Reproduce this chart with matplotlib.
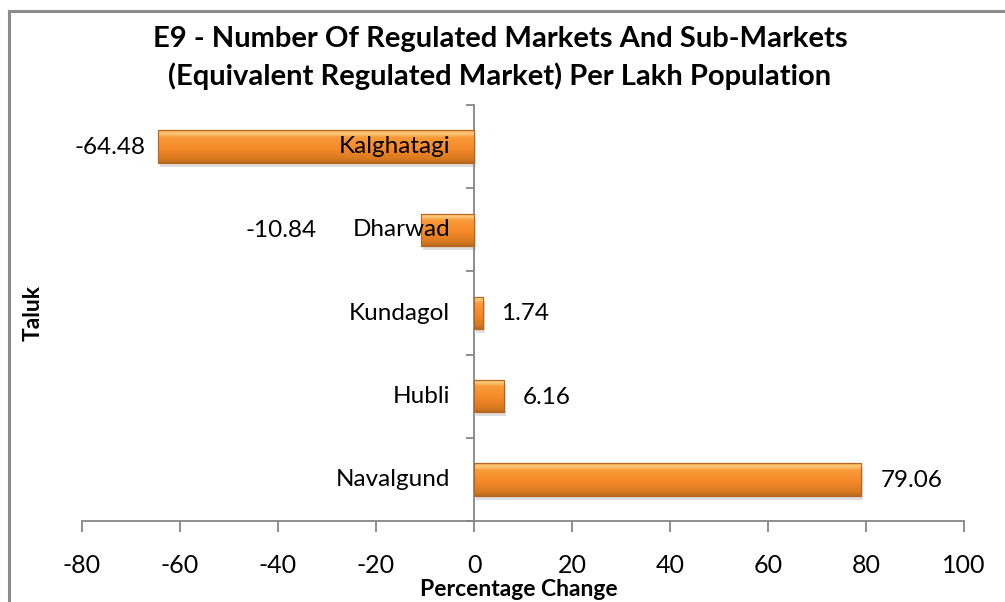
import matplotlib
matplotlib.use("Agg")
import matplotlib.pyplot as plt
import matplotlib.transforms as mtransforms
import numpy as np
from matplotlib.colors import LinearSegmentedColormap
from matplotlib.patches import Rectangle
from matplotlib.lines import Line2D

categories = ["Navalgund", "Hubli", "Kundagol", "Dharwad", "Kalghatagi"]
values = [79.06, 6.16, 1.74, -10.84, -64.48]
value_labels = ["79.06", "6.16", "1.74", "-10.84", "-64.48"]
xticks = [-80, -60, -40, -20, 0, 20, 40, 60, 80, 100]
title = "E9 - Number Of Regulated Markets And Sub-Markets\n(Equivalent Regulated Market) Per Lakh Population"
xlabel = "Percentage Change"
ylabel = "Taluk"

FONT = "Lato"
W, H = 1005, 602
fig = plt.figure(figsize=(W / 100, H / 100), dpi=100)
ax = fig.add_axes([82 / W, 1 - 521 / H, (964 - 82) / W, (521 - 105) / H])

y = np.arange(len(categories))
bh = 0.39
# shadows
ax.barh(y, values, height=bh, left=0, color="#000000", alpha=0.13, zorder=1,
        transform=mtransforms.offset_copy(ax.transData, fig=fig, x=2, y=-4, units="dots"))
bars = ax.barh(y, values, height=bh, color="#F79646", edgecolor="#B8651F", linewidth=0.8, zorder=2)

cmap = LinearSegmentedColormap.from_list(
    "bevel", [(0.0, "#B86A22"), (0.12, "#D8791F"), (0.45, "#F68A2A"), (0.78, "#F99A3A"), (0.9, "#FCCB7E"), (1.0, "#F4A048")])
grad = np.linspace(0, 1, 256).reshape(-1, 1)
for b in bars:
    x0, y0 = b.get_x(), b.get_y()
    w, h = b.get_width(), b.get_height()
    im = ax.imshow(grad, cmap=cmap, aspect="auto", origin="lower",
                   extent=[min(x0, x0 + w), max(x0, x0 + w), y0, y0 + h], zorder=3)
    im.set_clip_path(b)
    ax.add_patch(Rectangle((x0, y0), w, h, fill=False, edgecolor="#B8651F", linewidth=0.8, zorder=4))

ax.set_xlim(-80, 100)
ax.set_ylim(-0.5, len(categories) - 0.5)
ax.set_xticks(xticks)
ax.set_xticklabels([str(t) for t in xticks], fontsize=18, family=FONT)
ax.set_yticks(np.arange(-0.5, len(categories), 1.0))
ax.set_yticklabels([])
for s in ["top", "right"]:
    ax.spines[s].set_visible(False)
ax.spines["left"].set_position(("data", 0))
for s in ["left", "bottom"]:
    ax.spines[s].set_color("#868686")
    ax.spines[s].set_linewidth(1.3)
ax.tick_params(axis="x", direction="out", length=8, width=1.3, color="#868686", pad=16)
ax.tick_params(axis="y", direction="out", length=6, width=1.3, color="#868686")
ax.patch.set_visible(False)

fig.canvas.draw()
renderer = fig.canvas.get_renderer()

for i, (cat, v, lab) in enumerate(zip(categories, values, value_labels)):
    t = ax.annotate(cat, (0, i), xytext=(-24, 0), textcoords="offset pixels",
                    ha="right", va="center", fontsize=17.5, family=FONT, color="#000000", zorder=6)
    if v >= 0:
        ax.annotate(lab, (v, i), xytext=(19, -1), textcoords="offset pixels",
                    ha="left", va="center", fontsize=17.5, family=FONT, zorder=6)
    else:
        bb = t.get_window_extent(renderer)
        bar_end_px = ax.transData.transform((v, i))[0]
        right = min(bar_end_px, bb.x0 - 23) - 13
        xd = ax.transData.inverted().transform((right, 0))[0]
        ax.annotate(lab, (xd, i), xytext=(0, -1), textcoords="offset pixels",
                    ha="right", va="center", fontsize=17.5, family=FONT, zorder=6)

fig.text(519 / W, 1 - 589 / H, xlabel, ha="center", va="center",
         fontsize=16.5, fontweight="bold", family=FONT)
fig.text(33 / W, 1 - 313 / H, ylabel, rotation=90, ha="center", va="center",
         fontsize=16.5, fontweight="bold", family=FONT)
fig.text(500 / W, 1 - 58 / H, title, ha="center", va="center", fontsize=21,
         fontweight="bold", family=FONT, linespacing=1.45)

fig.add_artist(Line2D([8.5 / W, 1], [1 - 10.5 / H, 1 - 10.5 / H], transform=fig.transFigure, color="#8C8C8C", lw=2.2))
fig.add_artist(Line2D([8.5 / W, 8.5 / W], [0, 1 - 10.5 / H], transform=fig.transFigure, color="#8C8C8C", lw=2.2))

fig.savefig("out.png", dpi=100)
